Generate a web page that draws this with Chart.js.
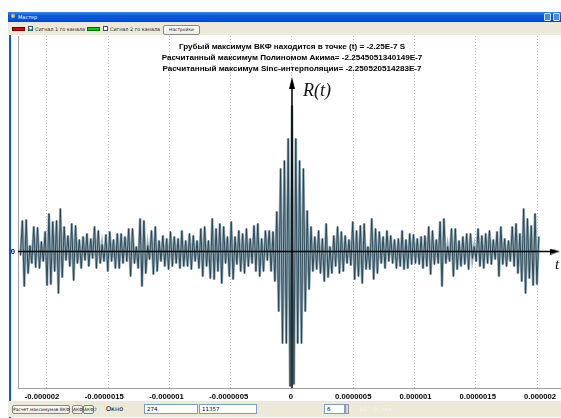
<!DOCTYPE html>
<html>
<head>
<meta charset="utf-8">
<script src="https://cdn.jsdelivr.net/npm/chart.js@4.4.0/dist/chart.umd.min.js"></script>
<style>
  html, body { margin: 0; padding: 0; background: #fff; width: 561px; height: 418px; overflow: hidden; }
  body { font-family: "Liberation Sans", Arial, sans-serif; }
  .abs { position: absolute; }
  #plot { position: absolute; left: 0; top: 0; }
  .tiny { font-family: "DejaVu Sans", sans-serif; font-size: 4.9px; color: #222; white-space: nowrap; }
  .caption { position: absolute; left: 92px; width: 400px; text-align: center; font-weight: bold; font-size: 8.1px; color: #000; white-space: nowrap; line-height: 11px; }
  .axisName { position: absolute; font-family: "Liberation Serif", "DejaVu Serif", serif; font-style: italic; color: #111; line-height: 1; white-space: nowrap; }
  .box { position: absolute; background: #fff; border: 1px solid #7f9db9; box-sizing: border-box; font-family: "DejaVu Sans", sans-serif; font-size: 5.5px; line-height: 8px; padding-left: 2px; color: #000; }
  .btn { position: absolute; background: linear-gradient(#fdfdfb, #ecebe6); border: 1px solid #8a8a80; border-radius: 2px; box-sizing: border-box; text-align: center; font-family: "DejaVu Sans", sans-serif; font-size: 4.4px; line-height: 7px; color: #222; white-space: nowrap; }
</style>
</head>
<body>
<canvas id="plot" width="561" height="418" style="width:561px;height:418px;"></canvas>

<!-- window title bar -->
<div class="abs" style="left:8px;top:12px;width:553px;height:10px;background:linear-gradient(#3a86f5,#0a5ade 35%,#0652d6 75%,#0444b4);"></div>
<div class="abs" style="left:11px;top:14px;width:4px;height:4px;border-radius:2px;background:#f0c060;"></div>
<div class="abs" style="left:18px;top:13px;font-family:'DejaVu Sans',sans-serif;font-size:5px;line-height:8px;color:#fff;">Мастер</div>
<div class="abs" style="left:544px;top:13px;width:7px;height:8px;box-sizing:border-box;border:1px solid #dbe6fb;border-radius:1px;background:#4d86ee;"></div>
<div class="abs" style="left:553px;top:13px;width:7px;height:8px;box-sizing:border-box;border:1px solid #dbe6fb;border-radius:1px;background:#4d86ee;"></div>

<!-- channel toolbar -->
<div class="abs" style="left:8px;top:22px;width:553px;height:13px;background:#ece9d8;"></div>
<div class="abs" style="left:12px;top:27px;width:13px;height:4px;background:#e00000;border:1px solid #600;box-sizing:border-box;"></div>
<div class="abs" style="left:28px;top:26px;width:5px;height:5px;background:#fff;border:1px solid #1c5180;box-sizing:border-box;"></div>
<div class="abs" style="left:29px;top:27px;width:3px;height:2px;border-left:1px solid #21a121;border-bottom:1px solid #21a121;transform:rotate(-45deg);"></div>
<div class="abs tiny" style="left:35px;top:26px;line-height:6px;">Сигнал 1 го канала</div>
<div class="abs" style="left:87px;top:27px;width:13px;height:4px;background:#00d000;border:1px solid #060;box-sizing:border-box;"></div>
<div class="abs" style="left:103px;top:26px;width:5px;height:5px;background:#fff;border:1px solid #1c5180;box-sizing:border-box;"></div>
<div class="abs tiny" style="left:110px;top:26px;line-height:6px;">Сигнал 2 го канала</div>
<div class="btn" style="left:163px;top:25px;width:37px;height:10px;line-height:8px;">Настройки</div>

<!-- left window edge -->
<div class="abs" style="left:9px;top:35px;width:2px;height:383px;background:#0a5ade;"></div>

<!-- result captions -->
<div class="caption" style="top:41px;">Грубый максимум ВКФ находится в точке (t) = -2.25E-7 S</div>
<div class="caption" style="top:52px;">Расчитанный максимум Полиномом Акима= -2.2545051340149E-7</div>
<div class="caption" style="top:63px;">Расчитанный максимум Sinc-интерполяции= -2.250520514283E-7</div>

<!-- axis names -->
<div class="axisName" style="left:303px;top:81px;font-size:18px;">R(t)</div>
<div class="axisName" style="left:555px;top:257px;font-size:15px;">t</div>

<!-- bottom toolbar -->
<div class="abs" style="left:8px;top:401px;width:553px;height:16px;background:#ece9d8;"></div>
<div class="btn" style="left:12px;top:405px;width:58px;height:9px;">Расчет максимумов ВКФ</div>
<div class="btn" style="left:72px;top:405px;width:11px;height:9px;">АКФ1</div>
<div class="btn" style="left:83px;top:405px;width:11px;height:9px;border-color:#5b7fc0;">АКФ2</div>
<div class="abs" style="left:106px;top:404px;font-family:'DejaVu Sans',sans-serif;font-size:6.5px;line-height:10px;color:#000;">Окно</div>
<div class="box" style="left:144px;top:404px;width:54px;height:10px;">274</div>
<div class="box" style="left:199px;top:404px;width:58px;height:10px;">11357</div>
<div class="box" style="left:324px;top:404px;width:21px;height:10px;">6</div>
<div class="abs" style="left:345px;top:404px;width:4px;height:10px;background:#d8d6cc;border:1px solid #999;box-sizing:border-box;"></div>
<div class="abs" style="left:359px;top:404px;font-family:'DejaVu Sans',sans-serif;font-size:6px;line-height:10px;color:#f6f5ef;">10^-9, сек.</div>

<script>
// Cross-correlation R(t): samples are spaced by T_STEP, the first one has index FIRST_INDEX
// (index 0 is the main lobe at t = 0).
const T_STEP = 0.0155e-6;
const FIRST_INDEX = -143;

// sample values, left to right, split in consecutive stretches
const rLeftTail = [-4, 31, -35, 32, -22, 6, -12, 25, -16, 24, -17, 10, -10, 20, -34, 38, -33, 30, -20, 31,
  -42, 43, -26, 25, -9, 16, -15, 28, -29, 26, -12, 12, -17, 15, -9, 18, -15, 13, -7, 25,
  -17, 21, -12, 7, -10, 17, -20, 20, -10, 12, -17, 18, -17, 18];
const rLeftMid = [-12, 15, -10, 23, -25, 23, -12, 5, -17, 33, -35, 31, -22, 6, -8, 21, -23, 25, -20, 11,
  -10, 16, -15, 13, -18, 20, -15, 15, -12, 13, -17, 21, -15, 11, -15, 18, -18, 16, -10, 11,
  -17, 23, -25, 25, -15, 11, -27, 33, -28, 23, -20, 28, -32];
const rCentre = [25, -12, 15, -25, 30, -28, 15, -13, 21, -20, 18, -22, 23, -15, 13, -12, 26, -20, 28, -25,
  13, -20, 21, -9, 21, -20, 20, -30, 40, -60, 83, -92, 91, -92, 113, -135, 146, -133, 113, -92,
  91, -92, 83, -60, 41, -38, 25, -20, 15, -18, 21, -22, 13];
const rRightMid = [-30, 28, -26, 5, -22, 16, -15, 25, -22, 20, -20, 16, -12, 12, -14, 30, -28, 21, -25, 26,
  -32, 28, -18, 5, -18, 33, -28, 23, -22, 20, -12, 15, -17, 21, -10, 16, -12, 12, -17, 13,
  -15, 21, -18, 12, -17, 18, -13, 17, -12, 13, -13, 15, -17, 16, -15, 25];
const rRightTail = [-23, 21, -13, 12, -12, 30, -35, 33, -12, 5, -10, 23, -25, 23, -18, 11, -15, 15, -13, 18,
  -18, 18, -7, 5, -10, 23, -15, 16, -17, 18, -12, 21, -13, 12, -8, 20, -25, 25, -13, 13,
  -15, 11, -10, 25, -15, 28, -22, 18, -30, 43, -42, 33, -27, 26, -34, 38, -33, 15];

// time ticks (seconds) and their captions
const tTicks = [-0.000002, -0.0000015, -0.000001, -0.0000005, 0, 0.0000005, 0.000001, 0.0000015, 0.000002];
const tTickLabels = ['-0.000002', '-0.0000015', '-0.000001', '-0.0000005', '0', '0.0000005', '0.000001', '0.0000015', '0.000002'];

// visible window of the plot
const T_MIN = -2.2367e-6, T_MAX = 2.1959e-6;
// the caption row is laid out on a slightly wider time ruler than the grid
const TL_MIN = -2.1928e-6, TL_MAX = 2.1687e-6;
const R_MIN = -136.5, R_MAX = 215.5;
// where the axis arrows end
const T_ARROW = 2.147e-6, R_ARROW = 168.5;

const rValues = [].concat(rLeftTail, rLeftMid, rCentre, rRightMid, rRightTail);
const signal = rValues.map((v, i) => ({ x: (FIRST_INDEX + i) * T_STEP, y: v }));

function arrowHead(len, half) {
  const c = document.createElement('canvas');
  c.width = half * 2; c.height = len;
  const g = c.getContext('2d');
  g.fillStyle = '#000';
  g.beginPath();
  g.moveTo(half, 0); g.lineTo(half * 2, len); g.lineTo(0, len);
  g.closePath(); g.fill();
  return c;
}
const headUp = arrowHead(12, 3);
const headRight = arrowHead(10, 3);

const tickFont = { family: '"Liberation Sans", Arial, sans-serif', size: 7.7, weight: 'bold' };
const tickList = s => { s.ticks = tTicks.map(v => ({ value: v })); };
// fixed band height, no extra side padding for the end captions
const fixedBand = h => s => { s.height = h; s.paddingLeft = 0; s.paddingRight = 0; };

new Chart(document.getElementById('plot'), {
  type: 'scatter',
  data: {
    datasets: [
      {
        // soft body of the trace
        label: 'R(t) body', data: signal, showLine: true, borderColor: '#9bb0ba', borderWidth: 2.6,
        pointRadius: 0, tension: 0, order: 3
      },
      {
        label: 'R(t)', data: signal, showLine: true, borderColor: '#22404f', borderWidth: 0.9,
        pointRadius: 0, tension: 0, order: 2
      },
      {
        label: 't axis', data: [{ x: T_MIN, y: 0 }, { x: T_ARROW, y: 0 }], showLine: true,
        borderColor: '#000', borderWidth: 1.5, pointRadius: [0, 1], pointStyle: headRight,
        pointRotation: 90, order: 0, clip: false
      },
      {
        label: 'R axis', data: [{ x: 0, y: R_MIN }, { x: 0, y: R_ARROW }], showLine: true,
        borderColor: '#000', borderWidth: 1.5, pointRadius: [0, 1], pointStyle: headUp,
        pointRotation: 0, order: 0, clip: false
      }
    ]
  },
  options: {
    responsive: false,
    animation: false,
    events: [],
    layout: { autoPadding: false, padding: { left: 0, right: 0, top: 36, bottom: 16 } },
    plugins: { legend: { display: false }, tooltip: { enabled: false }, title: { display: false } },
    scales: {
      x: {
        type: 'linear', min: T_MIN, max: T_MAX, position: 'bottom', weight: 0,
        afterBuildTicks: tickList,
        afterFit: fixedBand(0),
        grid: { color: '#bdbdbd', lineWidth: 1, drawTicks: false },
        border: { display: true, color: '#a0a0a0', width: 1, dash: [1, 2] },
        ticks: { display: false }
      },
      tl: {
        type: 'linear', min: TL_MIN, max: TL_MAX, position: 'bottom', weight: 1,
        afterBuildTicks: tickList,
        afterFit: fixedBand(14),
        grid: { display: false, drawTicks: false },
        border: { display: false },
        ticks: {
          font: tickFont, color: '#000', padding: 4, maxRotation: 0, autoSkip: false,
          callback: (v, i) => tTickLabels[i]
        }
      },
      y: {
        type: 'linear', min: R_MIN, max: R_MAX,
        afterBuildTicks: s => { s.ticks = [{ value: 0 }]; },
        afterFit: s => { s.width = 18; s.paddingTop = 0; s.paddingBottom = 0; },
        grid: { display: false, drawTicks: false },
        border: { display: true, color: '#a0a0a0', width: 1 },
        ticks: { font: tickFont, color: '#000', padding: 3, callback: () => '0' }
      }
    }
  }
});
</script>
</body>
</html>
